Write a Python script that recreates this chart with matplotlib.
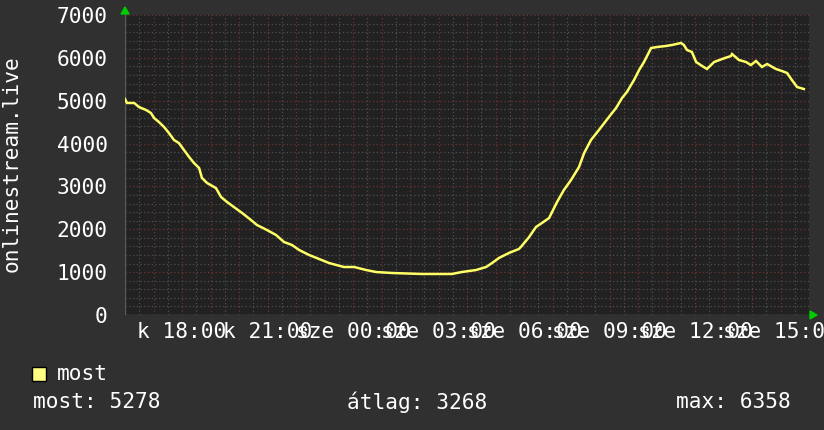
import matplotlib
matplotlib.use("Agg")
import matplotlib.pyplot as plt
from matplotlib.patches import Rectangle, Polygon

# ---- data (hours after 16:00, viewers) ----
hours = [0.00, 0.07, 0.32, 0.49, 0.74, 0.91, 1.02, 1.19, 1.37, 1.54, 1.72, 1.89,
         2.07, 2.25, 2.42, 2.60, 2.70, 2.88, 3.19, 3.37, 3.58, 3.82, 4.11, 4.42,
         4.63, 4.98, 5.30, 5.58, 5.86, 6.11, 6.46, 6.81, 7.16, 7.68, 8.04, 8.46,
         8.81, 9.37, 10.42, 11.47, 11.82, 12.32, 12.67, 12.88, 13.12, 13.47, 13.82,
         13.89, 14.18, 14.42, 14.63, 14.88, 15.16, 15.40, 15.65, 15.93, 16.11,
         16.35, 16.63, 16.98, 17.23, 17.44, 17.61, 17.86, 18.04, 18.21, 18.46,
         18.67, 18.98, 19.19, 19.51, 19.61, 19.72, 19.89, 20.04, 20.25, 20.42,
         20.67, 20.95, 21.26, 21.30, 21.54, 21.79, 21.96, 22.14, 22.35, 22.53,
         22.84, 23.05, 23.23, 23.40, 23.58, 23.82]
values = [5040, 4947, 4947, 4853, 4783, 4713, 4597, 4503, 4387, 4247, 4083, 4013,
          3850, 3687, 3547, 3430, 3197, 3080, 2963, 2753, 2637, 2520, 2380, 2217,
          2100, 1983, 1867, 1703, 1633, 1517, 1400, 1307, 1213, 1120, 1120, 1050,
          1003, 980, 957, 957, 1003, 1050, 1120, 1213, 1330, 1447, 1540,
          1587, 1820, 2053, 2147, 2263, 2637, 2917, 3150, 3453, 3780,
          4083, 4317, 4620, 4830, 5063, 5203, 5483, 5717, 5903, 6230,
          6253, 6277, 6300, 6347, 6300, 6183, 6137, 5903, 5810, 5740,
          5903, 5973, 6043, 6090, 5950, 5903, 5833, 5927, 5787, 5857,
          5740, 5693, 5647, 5483, 5320, 5273]

tick_hours = [2, 5, 8, 11, 14, 17, 20, 23]
tick_labels = ["k 18:00", "k 21:00", "sze 00:00", "sze 03:00",
               "sze 06:00", "sze 09:00", "sze 12:00", "sze 15:00"]
y_ticks = [0, 1000, 2000, 3000, 4000, 5000, 6000, 7000]
y_label = "onlinestream.live"
series_name = "most"
stats = [("most: 5278", 33), ("átlag: 3268", 347), ("max: 6358", 676)]

W, H = 824, 430
BG = "#303030"
PLOT_BG = "#212121"
LINE = "#ffff66"
FONT = "DejaVu Sans Mono"
FS = 15.2

fig = plt.figure(figsize=(W / 100, H / 100), dpi=100, facecolor=BG)
x0, x1, ytop, ybot = 125, 809, 15, 315
ax = fig.add_axes([x0 / W, 1 - ybot / H, (x1 - x0) / W, (ybot - ytop) / H])
ax.set_facecolor(PLOT_BG)

xmax = (x1 - x0) / 28.5
ax.set_xlim(0, xmax)
ax.set_ylim(0, 7000)

# grid
for h in [i * 0.5 for i in range(0, 48)]:
    if h <= xmax:
        col = "#6e3434" if h == int(h) else "#505050"
        ax.axvline(h, color=col, lw=0.9, ls=(0, (1, 2)), zorder=1)
for v in range(0, 7001, 200):
    col = "#6e3434" if v % 1000 == 0 else "#505050"
    ax.axhline(v, color=col, lw=0.9, ls=(0, (1, 2)), zorder=1)

ax.plot(hours, values, color=LINE, lw=1.8, zorder=3, solid_joinstyle="miter")

for s in ax.spines.values():
    s.set_visible(False)
ax.axhline(0, color="#5a5a5a", lw=1, zorder=2)
ax.axvline(0, color="#5a5a5a", lw=1, zorder=2)

ax.set_xticks(tick_hours)
ax.set_xticklabels(tick_labels)
ax.set_yticks(y_ticks)
ax.set_yticklabels([str(v) for v in y_ticks])
ax.tick_params(axis="both", length=0, colors="white", labelsize=FS)
ax.tick_params(axis="x", pad=5)
ax.tick_params(axis="y", pad=12.5)
for lab in ax.get_xticklabels() + ax.get_yticklabels():
    lab.set_fontfamily(FONT)

fig.text(12 / W, 1 - 164 / H, y_label, rotation=90, color="white",
         fontsize=FS, family=FONT, ha="center", va="center")

# green arrows
fig.patches.append(Polygon([[(121) / W, 1 - 14 / H], [(129) / W, 1 - 14 / H],
                            [125 / W, 1 - 7 / H]], closed=True,
                           transform=fig.transFigure, color="#00cc00"))
fig.patches.append(Polygon([[810 / W, 1 - 311 / H], [810 / W, 1 - 319 / H],
                            [817 / W, 1 - 315 / H]], closed=True,
                           transform=fig.transFigure, color="#00cc00"))

# legend
fig.patches.append(Rectangle((32 / W, 1 - 381 / H), 14 / W, 14 / H,
                             transform=fig.transFigure, facecolor="#ffff80",
                             edgecolor="black", lw=1))
fig.text(57 / W, 1 - 374 / H, series_name, color="white", fontsize=FS,
         family=FONT, ha="left", va="center")
for txt, xp in stats:
    fig.text(xp / W, 1 - 402 / H, txt, color="white", fontsize=FS,
             family=FONT, ha="left", va="center")

fig.savefig("out.png", dpi=100, facecolor=BG)
